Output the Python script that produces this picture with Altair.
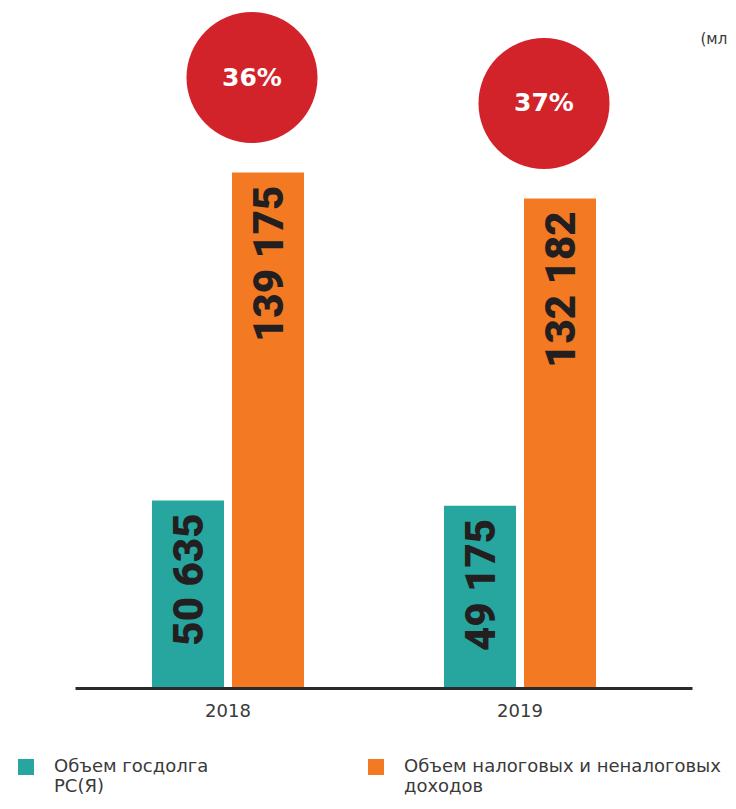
import altair as alt
import pandas as pd

# ---- data ----
years = ["2018", "2019"]
series = ["Объем госдолга\nРС(Я)", "Объем налоговых и неналоговых\nдоходов"]
debt = [50635, 49175]
revenue = [139175, 132182]
share_pct = [36, 37]
unit_label = "(млн руб.)"

colors = ["#26a69f", "#f37a22"]
red = "#d2232a"
text_dark = "#3a3a3a"

rows = []
for i, yr in enumerate(years):
    for s, v in zip(series, [debt[i], revenue[i]]):
        rows.append({"year": yr, "series": s, "value": v,
                     "label": f"{v:,}".replace(",", " ")})
bars_df = pd.DataFrame(rows)
circ_df = pd.DataFrame({"year": years, "value": revenue,
                        "pct": [f"{p}%" for p in share_pct]})

W, H = 617, 640
YMAX = 172800

x_enc = alt.X(
    "year:N",
    sort=years,
    scale=alt.Scale(domain=years, paddingInner=0.452, paddingOuter=0.2825, align=0.4424),
    axis=alt.Axis(title=None, labelAngle=0, ticks=False, grid=False,
                  domainColor="#2b2b2b", domainWidth=3, labelPadding=14,
                  labelFont="DejaVu Sans", labelFontSize=18, labelColor=text_dark,
                  zindex=1),
)
y_enc = alt.Y(
    "value:Q",
    scale=alt.Scale(domain=[0, YMAX], nice=False, zero=True),
    axis=alt.Axis(title=unit_label, labels=False, ticks=False, domain=False, grid=False,
                  titleAngle=0, titleX=625, titleY=-5, titleAlign="left",
                  titleBaseline="alphabetic", titleFont="DejaVu Sans", titleFontSize=15,
                  titleFontWeight="normal", titleColor=text_dark),
)
xo_enc = alt.XOffset("series:N", sort=series,
                     scale=alt.Scale(domain=series, paddingInner=0.1, paddingOuter=0.05))

bars = alt.Chart(bars_df).mark_bar().encode(
    x=x_enc, y=y_enc, xOffset=xo_enc,
    color=alt.Color(
        "series:N", sort=series,
        scale=alt.Scale(domain=series, range=colors),
        legend=alt.Legend(
            title=None, orient="none", legendX=-58, legendY=710,
            direction="horizontal", columns=2, columnPadding=158, rowPadding=0,
            symbolType="square", symbolSize=256, symbolStrokeWidth=0, symbolOpacity=1,
            labelFont="DejaVu Sans", labelFontSize=18, labelColor=text_dark,
            labelOffset=19, labelLimit=600, labelBaseline="middle", padding=0,
            labelExpr="split(datum.label, '\\n')",
        ),
    ),
)

bar_labels = alt.Chart(bars_df).mark_text(
    angle=270, align="right", baseline="middle", dx=-13, dy=2,
    font="Roboto", fontWeight=900, fontSize=42, color="#231f20",
).encode(x=x_enc, y=y_enc, xOffset=xo_enc, text="label:N")

circles = alt.Chart(circ_df).mark_circle(
    size=17161, color=red, opacity=1, xOffset=24, yOffset=-95,
).encode(x=x_enc, y=y_enc)

circle_text = alt.Chart(circ_df).mark_text(
    font="DejaVu Sans", fontWeight="bold", fontSize=25, color="white",
    align="center", baseline="middle", xOffset=24, yOffset=-95,
).encode(x=x_enc, y=y_enc, text="pct:N")

chart = alt.layer(bars, bar_labels, circles, circle_text).properties(
    width=W, height=H,
    autosize=alt.AutoSizeParams(type="none"),
    padding={"left": 67, "right": 36, "top": 40, "bottom": 109},
    background="white",
).configure_view(stroke=None)

chart.save("out.html", embed_options={"renderer": "svg", "actions": False})
